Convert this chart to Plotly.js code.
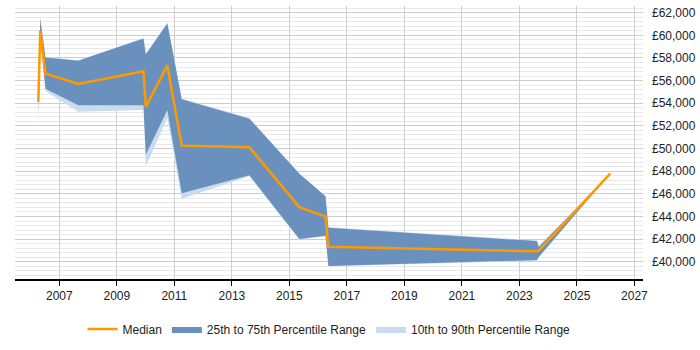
<!DOCTYPE html>
<html><head><meta charset="utf-8">
<script src="https://cdn.plot.ly/plotly-3.0.1.min.js"></script>
<style>html,body{margin:0;padding:0;background:#fff}#chart{width:700px;height:350px}</style>
</head><body><div id="chart"></div>
<script>
const dates = ["2006-04-09","2006-05-04","2006-07-09","2007-08-29","2009-12-05","2010-01-04","2010-10-04","2011-04-05","2013-08-11","2015-05-08","2016-04-04","2016-05-11","2023-08-11","2023-09-05","2026-02-27"];
const median = [54100,60420,56630,55700,56830,53680,57340,50260,50115,44830,43990,41320,40930,40980,47780];
const p25 = [53300,59900,55280,53820,53820,49470,53400,46050,47640,42020,42300,39640,40150,40450,47780];
const p75 = [54600,61470,58040,57760,59724,58320,61050,54350,52640,47780,45780,43010,41830,41300,47780];
const p10 = [51900,59700,55080,53260,53400,48430,52700,45560,47550,41980,42250,39600,40100,40350,47780];
const p90 = [54700,61600,58100,57800,59750,58350,61100,54400,52700,47800,45800,43050,41880,41400,47780];

const traces = [
  {x: dates, y: p10, mode: 'lines', line: {width: 0, color: '#c9dbef'}, showlegend: false, hoverinfo: 'skip'},
  {x: dates, y: p90, mode: 'lines', fill: 'tonexty', fillcolor: '#c9dbef', line: {width: 0, color: '#c9dbef'}, name: '10th to 90th Percentile Range', legendrank: 3},
  {x: dates, y: p25, mode: 'lines', line: {width: 0, color: '#6a91bd'}, showlegend: false, hoverinfo: 'skip'},
  {x: dates, y: p75, mode: 'lines', fill: 'tonexty', fillcolor: '#6a91bd', line: {width: 0, color: '#6a91bd'}, name: '25th to 75th Percentile Range', legendrank: 2},
  {x: dates, y: median, mode: 'lines', line: {width: 2.5, color: '#ff9900'}, name: 'Median', legendrank: 1}
];

const layout = {
  width: 700, height: 350,
  margin: {l: 15, r: 57, t: 6, b: 58},
  paper_bgcolor: '#fff', plot_bgcolor: '#fff',
  font: {family: '"Liberation Sans", Arial, sans-serif', size: 12, color: '#222'},
  showlegend: true,
  legend: {orientation: 'h', traceorder: 'normal', x: 0.5, xanchor: 'center', y: -0.13, yanchor: 'top', font: {size: 12, color: '#222'}, itemwidth: 30, tracegroupgap: 0},
  xaxis: {
    type: 'date', range: ['2005-06-17', '2027-04-20'],
    tick0: '2007-01-01', dtick: 'M24', tickformat: '%Y',
    showgrid: true, gridcolor: '#cfcfcf', gridwidth: 1,
    showline: true, linecolor: '#000', linewidth: 1.5,
    ticks: 'outside', ticklen: 5, tickcolor: '#000',
    zeroline: false, fixedrange: true
  },
  yaxis: {
    side: 'right', range: [38483, 62590],
    tick0: 40000, dtick: 2000, tickprefix: '£', tickformat: ',d',
    showgrid: true, gridcolor: '#cccccc', gridwidth: 1,
    minor: {dtick: 400, showgrid: true, gridcolor: '#e8e8e8', gridwidth: 1},
    showline: false, ticks: '', ticklabelstandoff: 8,
    zeroline: false, fixedrange: true
  }
};
Plotly.newPlot('chart', traces, layout, {staticPlot: true, displayModeBar: false});
</script></body></html>
